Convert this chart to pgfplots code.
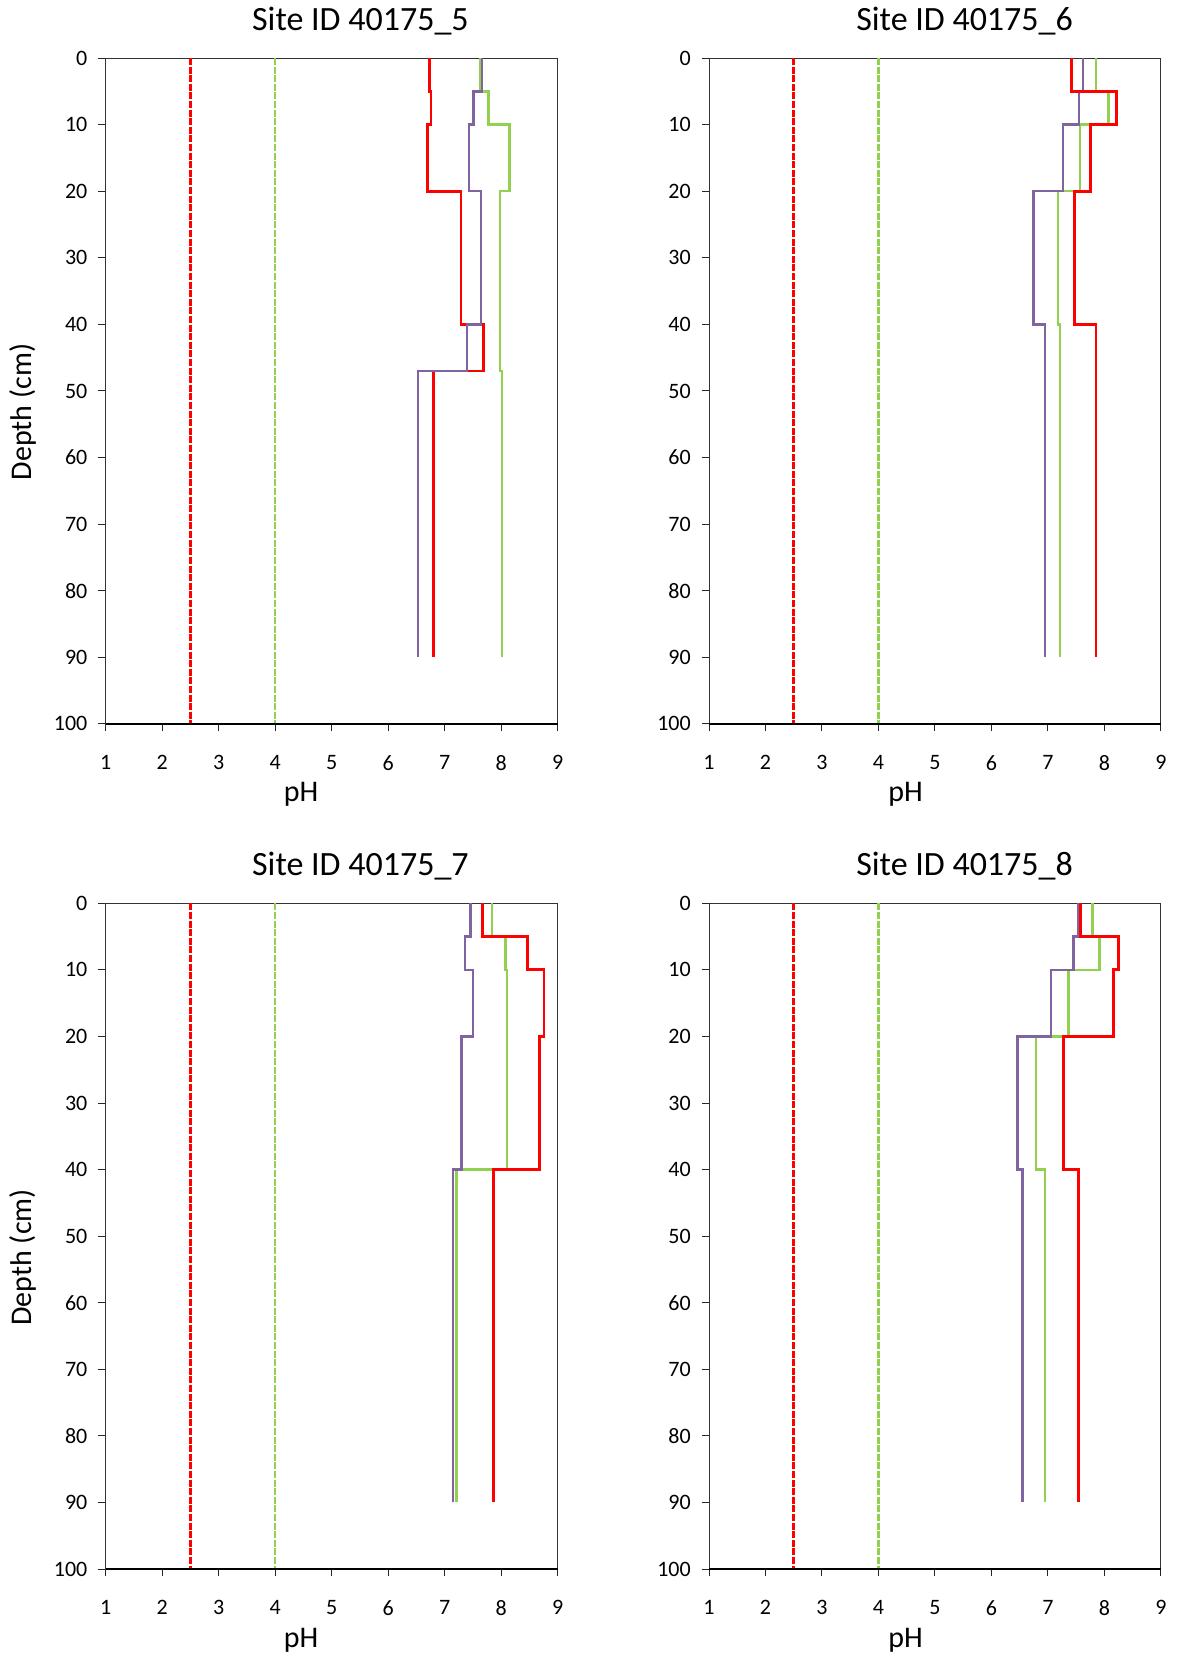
\documentclass[border=0pt]{standalone}
\usepackage{fontspec}
\setmainfont{Carlito}
\usepackage{pgfplots}
\pgfplotsset{compat=1.18}
\definecolor{cred}{HTML}{FF0000}
\definecolor{cgreen}{HTML}{92D050}
\definecolor{cpurple}{HTML}{8064A2}
\pgfplotsset{
 phaxis/.style={
  scale only axis, width=226pt, height=332.85pt,
  anchor=south west,
  xmin=1,xmax=9, ymin=0,ymax=100, y dir=reverse,
  xtick={1,2,...,9}, ytick={0,10,...,100},
  tick align=outside, major tick length=3.6pt,
  tick style={black!85, line width=0.5pt},
  axis line style={black!80, line width=0.5pt},
  ticklabel style={font=\fontsize{11}{12}\selectfont},
  /pgf/number format/assume math mode=true,
  xtick pos=bottom, ytick pos=left,
  xticklabel style={yshift=-8.6pt},
  yticklabel style={xshift=-2pt},
  clip=false,
 },
 refred/.style={cred, line width=1.3pt, dash pattern=on 3.5pt off 0.8pt},
 refgreen/.style={cgreen, line width=1.3pt, dash pattern=on 3.5pt off 0.8pt},
 sred/.style={cred, line width=1.45pt},
 sgreen/.style={cgreen, line width=1.2pt},
 spurple/.style={cpurple, line width=1.2pt},
}
\newcommand{\refs}{%
  \addplot[refred] coordinates {(2.5,0) (2.5,100)};
  \addplot[refgreen] coordinates {(4,0) (4,100)};
  \addplot[black, line width=1pt] coordinates {(1,100) (9,100)};
}
\begin{document}
\begin{tikzpicture}
\path[use as bounding box] (0,0) rectangle (588.5pt,828pt);
% Site 5
\begin{axis}[phaxis, at={(52.8pt,466.1pt)}]
\refs
\addplot[sgreen] coordinates {(7.63,0)(7.63,5)(7.78,5)(7.78,10)(8.15,10)(8.15,20)(7.98,20)(7.98,47)(8.02,47)(8.02,90)};
\addplot[sred] coordinates {(6.73,0)(6.73,5)(6.76,5)(6.76,10)(6.69,10)(6.69,20)(7.29,20)(7.29,40)(7.69,40)(7.69,47)(6.81,47)(6.81,90)};
\addplot[spurple] coordinates {(7.66,0)(7.66,5)(7.51,5)(7.51,10)(7.43,10)(7.43,20)(7.64,20)(7.64,40)(7.40,40)(7.40,47)(6.53,47)(6.53,90)};
\end{axis}
% Site 6
\begin{axis}[phaxis, at={(354.5pt,466.1pt)}]
\refs
\addplot[sgreen] coordinates {(7.85,0)(7.85,5)(8.07,5)(8.07,10)(7.57,10)(7.57,20)(7.18,20)(7.18,40)(7.21,40)(7.21,90)};
\addplot[spurple] coordinates {(7.62,0)(7.62,5)(7.55,5)(7.55,10)(7.27,10)(7.27,20)(6.74,20)(6.74,40)(6.95,40)(6.95,90)};
\addplot[sred] coordinates {(7.42,0)(7.42,5)(8.22,5)(8.22,10)(7.76,10)(7.76,20)(7.47,20)(7.47,40)(7.85,40)(7.85,90)};
\end{axis}
% Site 7
\begin{axis}[phaxis, at={(52.8pt,43.5pt)}]
\refs
\addplot[sgreen] coordinates {(7.84,0)(7.84,5)(8.08,5)(8.08,10)(8.11,10)(8.11,40)(7.21,40)(7.21,90)};
\addplot[sred] coordinates {(7.67,0)(7.67,5)(8.46,5)(8.46,10)(8.76,10)(8.76,20)(8.68,20)(8.68,40)(7.87,40)(7.87,90)};
\addplot[spurple] coordinates {(7.46,0)(7.46,5)(7.36,5)(7.36,10)(7.50,10)(7.50,20)(7.30,20)(7.30,40)(7.15,40)(7.15,90)};
\end{axis}
% Site 8
\begin{axis}[phaxis, at={(354.5pt,43.5pt)}]
\refs
\addplot[sgreen] coordinates {(7.79,0)(7.79,5)(7.91,5)(7.91,10)(7.36,10)(7.36,20)(6.79,20)(6.79,40)(6.95,40)(6.95,90)};
\addplot[spurple] coordinates {(7.54,0)(7.54,5)(7.45,5)(7.45,10)(7.05,10)(7.05,20)(6.46,20)(6.46,40)(6.55,40)(6.55,90)};
\addplot[sred] coordinates {(7.58,0)(7.58,5)(8.25,5)(8.25,10)(8.16,10)(8.16,20)(7.27,20)(7.27,40)(7.54,40)(7.54,90)};
\end{axis}
% titles
\node[font=\fontsize{17}{20}\selectfont] at (180.2pt,817.4pt) {Site ID 40175\_5};
\node[font=\fontsize{17}{20}\selectfont] at (482.3pt,817.4pt) {Site ID 40175\_6};
\node[font=\fontsize{17}{20}\selectfont] at (180.2pt,394.8pt) {Site ID 40175\_7};
\node[font=\fontsize{17}{20}\selectfont] at (482.3pt,394.8pt) {Site ID 40175\_8};
% x labels
\node[font=\fontsize{15}{18}\selectfont] at (150.6pt,430.7pt) {pH};
\node[font=\fontsize{15}{18}\selectfont] at (452.8pt,430.7pt) {pH};
\node[font=\fontsize{15}{18}\selectfont] at (150.6pt,8pt) {pH};
\node[font=\fontsize{15}{18}\selectfont] at (452.8pt,8pt) {pH};
% y labels
\node[font=\fontsize{15}{18}\selectfont, rotate=90] at (11.6pt,622pt) {Depth (cm)};
\node[font=\fontsize{15}{18}\selectfont, rotate=90] at (11.6pt,199.3pt) {Depth (cm)};
\end{tikzpicture}
\end{document}
